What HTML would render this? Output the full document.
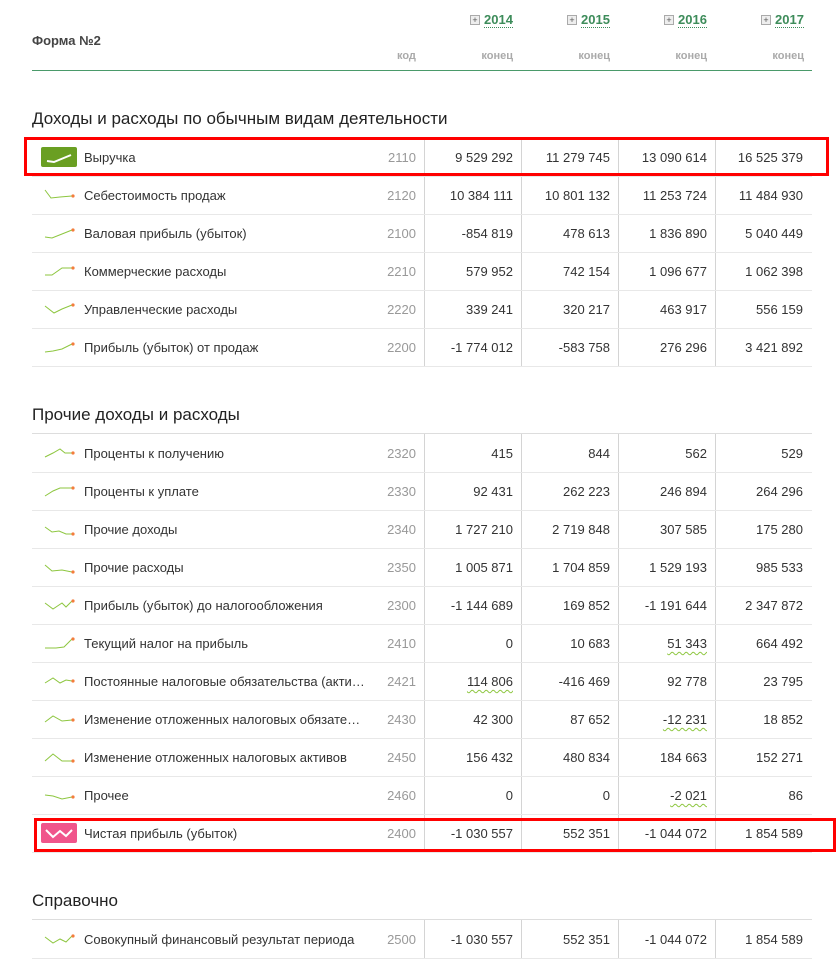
<!DOCTYPE html>
<html><head><meta charset="utf-8"><style>
body{margin:0;width:839px;height:959px;background:#fff;font-family:"Liberation Sans",Arial,sans-serif;color:#333;position:relative;overflow:hidden}
.a{position:absolute}
.r{position:absolute;left:32px;width:780px;height:38px;border-bottom:1px solid #e8e8e8;font-size:13px}
.r span{position:absolute;top:12px;line-height:15px;white-space:nowrap}
.l{left:52px}
.c{right:396px;color:#999}
.n1{right:299px}.n2{right:202px}.n3{right:105px}.n4{right:9px}
.r svg{position:absolute;left:12px;top:12px}
.w{text-decoration:underline wavy #8dc63f;text-underline-offset:3px;text-decoration-thickness:1px}
.vl{position:absolute;width:1px;background:#d4d4d4}
.t{position:absolute;left:32px;font-size:17px;color:#222}
.hl{position:absolute;left:32px;width:780px;height:1px;background:#ddd}
.yr{position:absolute;top:13px;font-size:13px;font-weight:bold;color:#3d8c5a;border-bottom:1px dotted #3d8c5a;line-height:14px}
.pl{position:absolute;top:15px;width:8px;height:8px;border:1px solid #aaa;background:#eee;font-size:9px;line-height:8px;text-align:center;color:#555}
.kn{position:absolute;top:50px;font-size:11px;font-weight:bold;color:#aaa}
.box{position:absolute;border:3px solid #f00;box-sizing:border-box}
</style></head><body>
<div class="a" style="left:32px;top:33px;font-size:13px;font-weight:bold;color:#444">Форма №2</div>
<div class="kn" style="left:397px">код</div>
<div class="kn" style="right:326px">конец</div>
<div class="kn" style="right:229px">конец</div>
<div class="kn" style="right:132px">конец</div>
<div class="kn" style="right:35px">конец</div>
<div class="pl" style="left:470px">+</div><div class="yr" style="left:484px">2014</div>
<div class="pl" style="left:567px">+</div><div class="yr" style="left:581px">2015</div>
<div class="pl" style="left:664px">+</div><div class="yr" style="left:678px">2016</div>
<div class="pl" style="left:761px">+</div><div class="yr" style="left:775px">2017</div>
<div class="a" style="left:32px;top:70px;width:780px;height:1px;background:#4a9a6a"></div>

<div class="t" style="top:109px">Доходы и расходы по обычным видам деятельности</div>
<div class="hl" style="top:137px"></div>
<div class="vl" style="left:424px;top:138px;height:229px"></div><div class="vl" style="left:521px;top:138px;height:229px"></div><div class="vl" style="left:618px;top:138px;height:229px"></div><div class="vl" style="left:715px;top:138px;height:229px"></div>

<div class="r" style="top:138px"><div class="a" style="left:9px;top:9px;width:36px;height:20px;background:#6a9f22;border-radius:2px"><svg width="36" height="20" style="left:0;top:0"><polyline points="6,14 13,15 30,8" fill="none" stroke="#fff" stroke-width="2"/></svg></div><span class="l">Выручка</span><span class="c">2110</span><span class="n1">9 529 292</span><span class="n2">11 279 745</span><span class="n3">13 090 614</span><span class="n4">16 525 379</span></div>
<div class="r" style="top:176px"><svg width="32" height="14"><polyline points="1,2 7,10 16,9 28,8" fill="none" stroke="#8dc63f"/><circle cx="29" cy="8" r="1.6" fill="#f47c3c"/></svg><span class="l">Себестоимость продаж</span><span class="c">2120</span><span class="n1">10 384 111</span><span class="n2">10 801 132</span><span class="n3">11 253 724</span><span class="n4">11 484 930</span></div>
<div class="r" style="top:214px"><svg width="32" height="14"><polyline points="1,11 8,12 18,8 28,4" fill="none" stroke="#8dc63f"/><circle cx="29" cy="4" r="1.6" fill="#f47c3c"/></svg><span class="l">Валовая прибыль (убыток)</span><span class="c">2100</span><span class="n1">-854 819</span><span class="n2">478 613</span><span class="n3">1 836 890</span><span class="n4">5 040 449</span></div>
<div class="r" style="top:252px"><svg width="32" height="14"><polyline points="1,11 8,11 18,4 28,4" fill="none" stroke="#8dc63f"/><circle cx="29" cy="4" r="1.6" fill="#f47c3c"/></svg><span class="l">Коммерческие расходы</span><span class="c">2210</span><span class="n1">579 952</span><span class="n2">742 154</span><span class="n3">1 096 677</span><span class="n4">1 062 398</span></div>
<div class="r" style="top:290px"><svg width="32" height="14"><polyline points="1,4 10,11 18,7 28,3" fill="none" stroke="#8dc63f"/><circle cx="29" cy="3" r="1.6" fill="#f47c3c"/></svg><span class="l">Управленческие расходы</span><span class="c">2220</span><span class="n1">339 241</span><span class="n2">320 217</span><span class="n3">463 917</span><span class="n4">556 159</span></div>
<div class="r" style="top:328px"><svg width="32" height="14"><polyline points="1,12 9,11 18,9 28,4" fill="none" stroke="#8dc63f"/><circle cx="29" cy="4" r="1.6" fill="#f47c3c"/></svg><span class="l">Прибыль (убыток) от продаж</span><span class="c">2200</span><span class="n1">-1 774 012</span><span class="n2">-583 758</span><span class="n3">276 296</span><span class="n4">3 421 892</span></div>
<div class="box" style="left:24px;top:137px;width:805px;height:39px"></div>

<div class="t" style="top:405px">Прочие доходы и расходы</div>
<div class="hl" style="top:433px"></div>
<div class="vl" style="left:424px;top:434px;height:418px"></div><div class="vl" style="left:521px;top:434px;height:418px"></div><div class="vl" style="left:618px;top:434px;height:418px"></div><div class="vl" style="left:715px;top:434px;height:418px"></div>

<div class="r" style="top:434px"><svg width="32" height="14"><polyline points="1,11 9,7 16,3 21,7 28,7" fill="none" stroke="#8dc63f"/><circle cx="29" cy="7" r="1.6" fill="#f47c3c"/></svg><span class="l">Проценты к получению</span><span class="c">2320</span><span class="n1">415</span><span class="n2">844</span><span class="n3">562</span><span class="n4">529</span></div>
<div class="r" style="top:472px"><svg width="32" height="14"><polyline points="1,12 9,7 16,4 28,4" fill="none" stroke="#8dc63f"/><circle cx="29" cy="4" r="1.6" fill="#f47c3c"/></svg><span class="l">Проценты к уплате</span><span class="c">2330</span><span class="n1">92 431</span><span class="n2">262 223</span><span class="n3">246 894</span><span class="n4">264 296</span></div>
<div class="r" style="top:510px"><svg width="32" height="14"><polyline points="1,5 8,10 15,9 22,12 28,12" fill="none" stroke="#8dc63f"/><circle cx="29" cy="12" r="1.6" fill="#f47c3c"/></svg><span class="l">Прочие доходы</span><span class="c">2340</span><span class="n1">1 727 210</span><span class="n2">2 719 848</span><span class="n3">307 585</span><span class="n4">175 280</span></div>
<div class="r" style="top:548px"><svg width="32" height="14"><polyline points="1,5 8,11 18,10 28,12" fill="none" stroke="#8dc63f"/><circle cx="29" cy="12" r="1.6" fill="#f47c3c"/></svg><span class="l">Прочие расходы</span><span class="c">2350</span><span class="n1">1 005 871</span><span class="n2">1 704 859</span><span class="n3">1 529 193</span><span class="n4">985 533</span></div>
<div class="r" style="top:586px"><svg width="32" height="14"><polyline points="1,5 9,11 18,5 22,9 28,3" fill="none" stroke="#8dc63f"/><circle cx="29" cy="3" r="1.6" fill="#f47c3c"/></svg><span class="l">Прибыль (убыток) до налогообложения</span><span class="c">2300</span><span class="n1">-1 144 689</span><span class="n2">169 852</span><span class="n3">-1 191 644</span><span class="n4">2 347 872</span></div>
<div class="r" style="top:624px"><svg width="32" height="14"><polyline points="1,12 12,12 20,11 28,3" fill="none" stroke="#8dc63f"/><circle cx="29" cy="3" r="1.6" fill="#f47c3c"/></svg><span class="l">Текущий налог на прибыль</span><span class="c">2410</span><span class="n1">0</span><span class="n2">10 683</span><span class="n3 w">51 343</span><span class="n4">664 492</span></div>
<div class="r" style="top:662px"><svg width="32" height="14"><polyline points="1,9 9,4 16,9 22,6 28,7" fill="none" stroke="#8dc63f"/><circle cx="29" cy="7" r="1.6" fill="#f47c3c"/></svg><span class="l">Постоянные налоговые обязательства (акти…</span><span class="c">2421</span><span class="n1 w">114 806</span><span class="n2">-416 469</span><span class="n3">92 778</span><span class="n4">23 795</span></div>
<div class="r" style="top:700px"><svg width="32" height="14"><polyline points="1,10 9,4 18,9 28,8" fill="none" stroke="#8dc63f"/><circle cx="29" cy="8" r="1.6" fill="#f47c3c"/></svg><span class="l">Изменение отложенных налоговых обязате…</span><span class="c">2430</span><span class="n1">42 300</span><span class="n2">87 652</span><span class="n3 w">-12 231</span><span class="n4">18 852</span></div>
<div class="r" style="top:738px"><svg width="32" height="14"><polyline points="1,11 9,4 18,11 28,11" fill="none" stroke="#8dc63f"/><circle cx="29" cy="11" r="1.6" fill="#f47c3c"/></svg><span class="l">Изменение отложенных налоговых активов</span><span class="c">2450</span><span class="n1">156 432</span><span class="n2">480 834</span><span class="n3">184 663</span><span class="n4">152 271</span></div>
<div class="r" style="top:776px"><svg width="32" height="14"><polyline points="1,7 9,8 18,11 28,9" fill="none" stroke="#8dc63f"/><circle cx="29" cy="9" r="1.6" fill="#f47c3c"/></svg><span class="l">Прочее</span><span class="c">2460</span><span class="n1">0</span><span class="n2">0</span><span class="n3 w">-2 021</span><span class="n4">86</span></div>
<div class="r" style="top:814px"><div class="a" style="left:9px;top:9px;width:36px;height:20px;background:#f0558b;border-radius:2px"><svg width="36" height="20" style="left:0;top:0"><polyline points="5,7 12,14 19,8 25,13 31,7" fill="none" stroke="#fff" stroke-width="2"/></svg></div><span class="l">Чистая прибыль (убыток)</span><span class="c">2400</span><span class="n1">-1 030 557</span><span class="n2">552 351</span><span class="n3">-1 044 072</span><span class="n4">1 854 589</span></div>
<div class="box" style="left:34px;top:818px;width:802px;height:34px"></div>

<div class="t" style="top:891px">Справочно</div>
<div class="hl" style="top:919px"></div>
<div class="vl" style="left:424px;top:920px;height:39px"></div><div class="vl" style="left:521px;top:920px;height:39px"></div><div class="vl" style="left:618px;top:920px;height:39px"></div><div class="vl" style="left:715px;top:920px;height:39px"></div>
<div class="r" style="top:920px"><svg width="32" height="14"><polyline points="1,5 9,11 16,7 22,10 28,4" fill="none" stroke="#8dc63f"/><circle cx="29" cy="4" r="1.6" fill="#f47c3c"/></svg><span class="l">Совокупный финансовый результат периода</span><span class="c">2500</span><span class="n1">-1 030 557</span><span class="n2">552 351</span><span class="n3">-1 044 072</span><span class="n4">1 854 589</span></div>
</body></html>
